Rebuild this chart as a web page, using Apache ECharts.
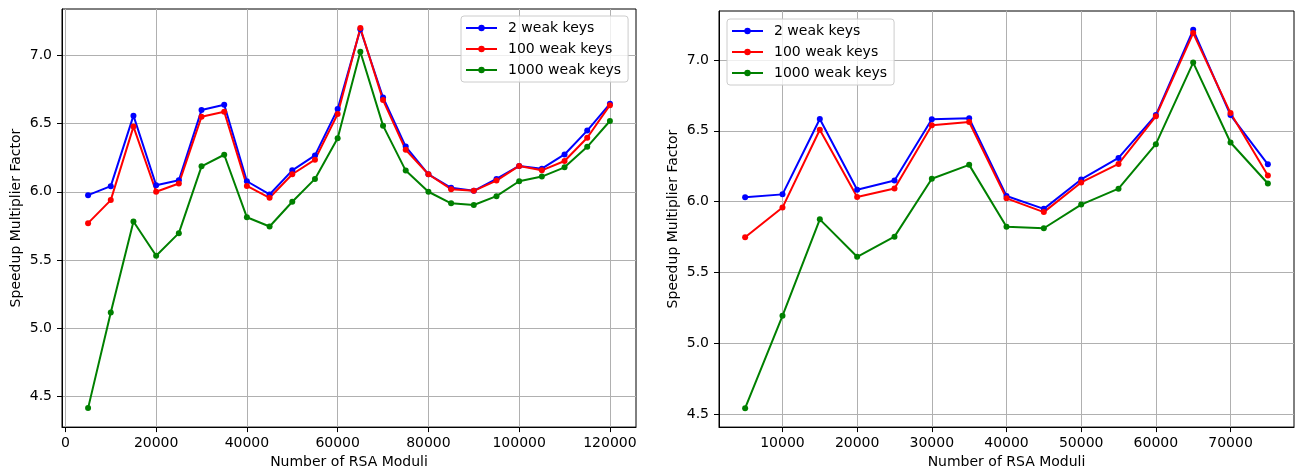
<!DOCTYPE html>
<html>
<head>
<meta charset="utf-8">
<script src="https://cdn.jsdelivr.net/npm/echarts@6/dist/echarts.min.js"></script>
<style>
  html, body { margin: 0; padding: 0; background: #fff; }
  #main { width: 1295px; height: 474px; }
</style>
</head>
<body>
<div id="main"></div>
<script>
// left panel: up to 120000 moduli
const leftX = [5000, 10000, 15000, 20000, 25000, 30000, 35000, 40000, 45000, 50000, 55000, 60000,
  65000, 70000, 75000, 80000, 85000, 90000, 95000, 100000, 105000, 110000, 115000, 120000]
const leftTwo = [5.975, 6.041, 6.557, 6.048, 6.084, 6.598, 6.637, 6.077, 5.980, 6.157, 6.266, 6.605,
  7.190, 6.690, 6.331, 6.128, 6.029, 6.007, 6.094, 6.189, 6.169, 6.273, 6.448, 6.644]
const leftHundred = [5.770, 5.939, 6.477, 6.000, 6.060, 6.549, 6.586, 6.043, 5.956, 6.128, 6.235, 6.569,
  7.199, 6.671, 6.307, 6.128, 6.019, 6.007, 6.082, 6.189, 6.157, 6.225, 6.395, 6.634]
const leftThousand = [4.416, 5.116, 5.782, 5.532, 5.697, 6.186, 6.271, 5.813, 5.746, 5.927, 6.094, 6.392,
  7.025, 6.484, 6.155, 6.000, 5.915, 5.903, 5.968, 6.077, 6.111, 6.179, 6.329, 6.518]

// right panel: up to 75000 moduli
const rightX = [5000, 10000, 15000, 20000, 25000, 30000, 35000, 40000, 45000, 50000, 55000, 60000, 65000, 70000, 75000]
const rightTwo = [6.031, 6.052, 6.583, 6.085, 6.150, 6.581, 6.588, 6.041, 5.950, 6.157, 6.309, 6.611, 7.212, 6.611, 6.264]
const rightHundred = [5.750, 5.959, 6.508, 6.034, 6.094, 6.539, 6.562, 6.024, 5.927, 6.136, 6.267, 6.602, 7.189, 6.625, 6.185]
const rightThousand = [4.544, 5.196, 5.876, 5.612, 5.754, 6.162, 6.260, 5.824, 5.813, 5.980, 6.092, 6.406, 6.981, 6.418, 6.129]

// tick labels
const leftXTicks = [0, 20000, 40000, 60000, 80000, 100000, 120000]
const rightXTicks = [10000, 20000, 30000, 40000, 50000, 60000, 70000]
const yTicks = [4.5, 5.0, 5.5, 6.0, 6.5, 7.0]

const seriesNames = ['2 weak keys', '100 weak keys', '1000 weak keys']
const seriesColors = ['#0000ff', '#ff0000', '#008000']

const FONT = 'DejaVu Sans'

const pairs = (xs, ys) => xs.map((x, i) => [x, ys[i]])

const xAxisF = (idx, min, max, ticks) => ({
  type: 'value',
  gridIndex: idx,
  min: min,
  max: max,
  name: 'Number of RSA Moduli',
  nameLocation: 'middle',
  nameGap: 27,
  nameTextStyle: { fontFamily: FONT, fontSize: 14, color: '#000' },
  axisLine: { show: true, onZero: false, lineStyle: { color: '#000', width: 1 } },
  axisTick: { show: true, inside: false, length: 5, customValues: ticks, lineStyle: { color: '#000', width: 1 } },
  axisLabel: {
    customValues: ticks,
    margin: 9,
    fontFamily: FONT,
    fontSize: 14,
    color: '#000',
    formatter: (v) => String(v)
  },
  splitLine: { show: true, lineStyle: { color: '#b0b0b0', width: 1 } }
})

const yAxisF = (idx, min, max) => ({
  type: 'value',
  gridIndex: idx,
  min: min,
  max: max,
  name: 'Speedup Multiplier Factor',
  nameLocation: 'middle',
  nameGap: 39,
  nameTextStyle: { fontFamily: FONT, fontSize: 14, color: '#000' },
  axisLine: { show: true, onZero: false, lineStyle: { color: '#000', width: 1 } },
  axisTick: { show: true, inside: false, length: 5, customValues: yTicks, lineStyle: { color: '#000', width: 1 } },
  axisLabel: {
    customValues: yTicks,
    margin: 10,
    fontFamily: FONT,
    fontSize: 14,
    color: '#000',
    formatter: (v) => v.toFixed(1)
  },
  splitLine: { show: true, lineStyle: { color: '#b0b0b0', width: 1 } }
})

const legendF = (left, top) => ({
  orient: 'vertical',
  left: left,
  top: top,
  itemWidth: 31,
  itemHeight: 8,
  itemGap: 7,
  padding: [5, 7, 5, 4],
  backgroundColor: 'rgba(255,255,255,0.8)',
  borderColor: '#cccccc',
  borderWidth: 1,
  borderRadius: 3,
  data: seriesNames,
  textStyle: { fontFamily: FONT, fontSize: 14, color: '#000', padding: [0, 0, 0, 6] }
})

const lineF = (name, color, idx, data) => ({
  name: name,
  type: 'line',
  xAxisIndex: idx,
  yAxisIndex: idx,
  data: data,
  symbol: 'circle',
  symbolSize: 6,
  showAllSymbol: true,
  color: color,
  itemStyle: { color: color },
  lineStyle: { color: color, width: 2 },
  emphasis: { disabled: true },
  animation: false
})

const chart = echarts.init(document.getElementById('main'))

const option = {
  backgroundColor: '#fff',
  animation: false,
  grid: [
    { left: 62, top: 9, width: 574, height: 422, show: true, borderColor: '#000', borderWidth: 1, backgroundColor: '#fff' },
    { left: 719, top: 11, width: 575, height: 420, show: true, borderColor: '#000', borderWidth: 1, backgroundColor: '#fff' }
  ],
  xAxis: [
    xAxisF(0, -750, 125750, leftXTicks),
    xAxisF(1, 1500, 78500, rightXTicks)
  ],
  yAxis: [
    yAxisF(0, 4.277, 7.338),
    yAxisF(1, 4.411, 7.345)
  ],
  legend: [
    legendF(461, 16),
    legendF(727, 19)
  ],
  series: [
    lineF(seriesNames[0], seriesColors[0], 0, pairs(leftX, leftTwo)),
    lineF(seriesNames[1], seriesColors[1], 0, pairs(leftX, leftHundred)),
    lineF(seriesNames[2], seriesColors[2], 0, pairs(leftX, leftThousand)),
    lineF(seriesNames[0], seriesColors[0], 1, pairs(rightX, rightTwo)),
    lineF(seriesNames[1], seriesColors[1], 1, pairs(rightX, rightHundred)),
    lineF(seriesNames[2], seriesColors[2], 1, pairs(rightX, rightThousand))
  ]
}

chart.setOption(option)
</script>
</body>
</html>
